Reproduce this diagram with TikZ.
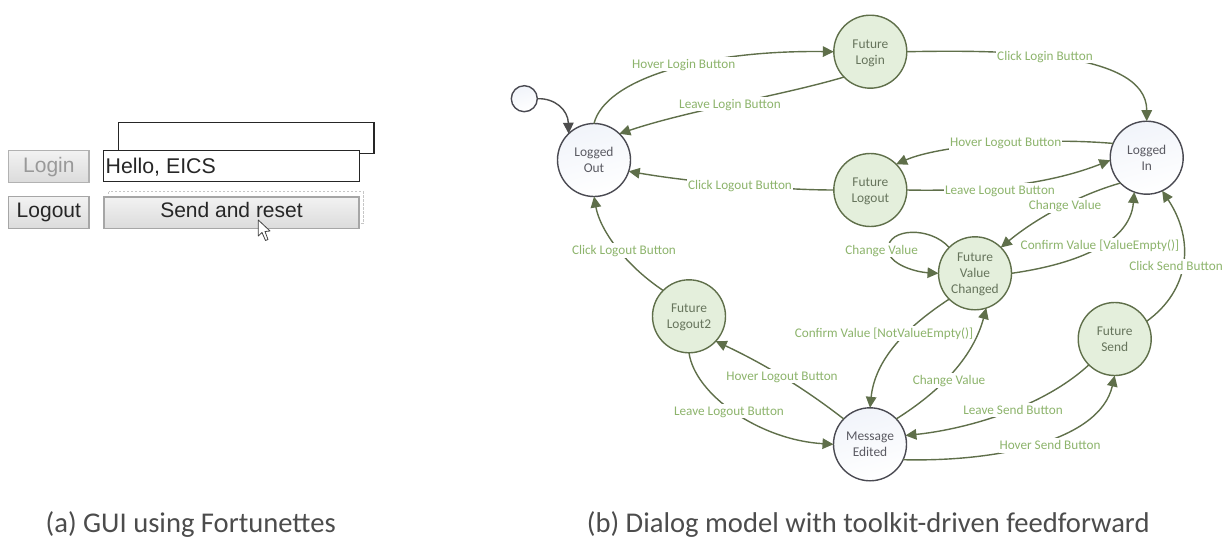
\documentclass[tikz,border=0pt]{standalone}
\usepackage{fontspec}
\setmainfont{Carlito}
\newfontfamily\guifont{Liberation Sans}
\usetikzlibrary{arrows.meta}
\definecolor{edgecol}{HTML}{5F6F4A}
\definecolor{labcol}{HTML}{8DB46C}
\definecolor{futfill}{HTML}{E4EFDC}
\definecolor{futtext}{HTML}{66745C}
\definecolor{regline}{HTML}{4A4A52}
\definecolor{regtext}{HTML}{5A5A62}
\definecolor{startcol}{HTML}{4D4D4D}
\definecolor{regblue}{HTML}{F1F4FA}
\tikzset{
 x=1pt,y=-1pt,
 future/.style={circle,draw=edgecol,fill=futfill,line width=1.4pt,minimum size=73pt,inner sep=0pt,outer sep=0pt,align=center,text=futtext,text depth=0pt,font=\fontsize{13.4}{16}\selectfont},
 regular/.style={circle,draw=regline,line width=1.4pt,minimum size=73pt,inner sep=0pt,outer sep=0pt,align=center,text=regtext,text depth=0pt,font=\fontsize{13.4}{16}\selectfont,shading=axis,top color=regblue,bottom color=white,shading angle=15},
 startnode/.style={circle,draw=regline,line width=1.4pt,minimum size=26pt,inner sep=0pt,outer sep=0pt,shading=axis,top color=regblue,bottom color=white,shading angle=15},
 trans/.style={draw=edgecol,line width=1.4pt,-{Triangle[length=11pt,width=10.5pt,fill=edgecol]}},
 edgelab/.style={fill=white,text=labcol,inner sep=1pt,text height=10.5pt,text depth=2pt,font=\fontsize{13.2}{15}\selectfont},
 guibtn/.style={draw=gray!70,line width=1.2pt,top color=gray!10,bottom color=gray!28,inner sep=0pt,outer sep=0pt,anchor=north west,text height=15pt,text depth=4.4pt,font=\guifont\fontsize{21}{24}\selectfont},
 guibox/.style={draw=black!85,fill=white,line width=1.2pt,inner sep=0pt,outer sep=0pt,anchor=north west},
 capt/.style={inner sep=0pt,text=black!70,anchor=base west,font=\fontsize{28.6}{32}\selectfont},
}
\begin{document}
\begin{tikzpicture}
\useasboundingbox (0,0) rectangle (1226,541);
% GUI
\node[guibox,minimum width=255.7pt,minimum height=31pt] (back) at (118.3,122.7) {};
\draw[gray!45,line width=1pt,dash pattern=on 2.5pt off 1.5pt] (108.7,191.7) rectangle (363.3,223.3);
\node[guibox,minimum width=256pt,minimum height=31pt] (hello) at (103.7,150.7) {};
\node[anchor=base west,inner sep=0pt,text=black!85,font=\guifont\fontsize{21.3}{24}\selectfont] (hellot) at (105.5,173) {Hello, EICS};
\node[guibtn,draw=gray!60,minimum width=80.3pt,minimum height=31.5pt,text=gray!80] (login) at (8.7,150.7) {\raisebox{-1pt}{Login}};
\node[guibtn,minimum width=80.3pt,minimum height=31.5pt,text=black!85] (logout) at (8.7,196.7) {Logout};
\node[guibtn,minimum width=255pt,minimum height=31.3pt,text=black!85] (send) at (104,197) {Send and reset};
\draw[fill=white,draw=black!75,line width=.8pt,line join=round] (258.3,220) -- (258.3,236) -- (262,232.5) -- (265.5,240.5) -- (268,239.5) -- (265,231.5) -- (270,231) -- cycle;
% states
\node[regular] (lo) at (594,160) {Logged\\Out};
\node[regular] (li) at (1146.7,157.7) {Logged\\In};
\node[regular] (me) at (870,444.3) {Message\\Edited};
\node[startnode] (st) at (524.3,98.7) {};
\node[future] (fl) at (870.3,51.7) {Future\\Login};
\node[future] (flo) at (870.3,190) {Future\\Logout};
\node[future] (fvc) at (975,273.3) {Future\\Value\\Changed};
\node[future] (fs) at (1114.7,339) {Future\\Send};
\node[future] (fl2) at (689,316.3) {Future\\Logout2};
\coordinate (loopturn) at (888,249);
% transitions
\draw[draw=startcol,line width=1.4pt,-{Triangle[length=11pt,width=10.5pt,fill=startcol]}] (st.0) .. controls (555,98) and (568,110) .. (lo.134);
\draw[trans] (lo.90) .. controls (605,80) and (700,50) .. (fl.180);
\draw[trans] (fl.224) .. controls (780,96) and (690,110) .. (lo.46);
\draw[trans] (flo.180) .. controls (780,190) and (690,182) .. (lo.-18);
\draw[trans] (fl2.135) .. controls (625,265) and (600,230) .. (lo.270);
\draw[trans] (fl.0) .. controls (1000,50) and (1147,50) .. (li.90);
\draw[trans] (li.157) .. controls (1040,137) and (940,145) .. (flo.45);
\draw[trans] (flo.0) .. controls (1000,192) and (1060,180) .. (li.184);
\draw[trans] (li.224) .. controls (1085,193) and (1040,215) .. (fvc.45);
\draw[trans] (fvc.0) .. controls (1070,265) and (1130,245) .. (li.250);
\draw[trans] (fvc.135) .. controls (930,226) and (888,228) .. (loopturn) .. controls (888,264) and (915,272) .. (fvc.180);
\draw[trans] (fvc.225) .. controls (905,328) and (875,360) .. (me.90);
\draw[trans] (me.44) .. controls (950,385) and (975,350) .. (fvc.288);
\draw[trans] (fs.225) .. controls (1040,410) and (960,430) .. (me.14);
\draw[trans] (me.-25) .. controls (1000,462) and (1100,440) .. (fs.270);
\draw[trans] (fs.29) .. controls (1190,290) and (1195,240) .. (li.295);
\draw[trans] (me.136) .. controls (800,385) and (760,362) .. (fl2.317);
\draw[trans] (fl2.270) .. controls (695,395) and (760,440) .. (me.180);
% labels
\node[edgelab] (l1) at (683.7,64) {Hover Login Button};
\node[edgelab] (l2) at (730,104) {Leave Login Button};
\node[edgelab] (l3) at (740,185) {Click Logout Button};
\node[edgelab] (l4) at (624,250.7) {Click Logout Button};
\node[edgelab] (l5) at (1045,56) {Click Login Button};
\node[edgelab] (l6) at (1005.7,142.7) {Hover Logout Button};
\node[edgelab] (l7) at (1000,190) {Leave Logout Button};
\node[edgelab] (l8) at (1065,205.7) {Change Value};
\node[edgelab] (l9) at (1100,245) {Confirm Value [ValueEmpty()]};
\node[edgelab] (l10) at (881.7,250) {Change Value};
\node[edgelab] (l11) at (1176,266.7) {Click Send Button};
\node[edgelab] (l12) at (884,333.7) {Confirm Value [NotValueEmpty()]};
\node[edgelab] (l13) at (949,380.7) {Change Value};
\node[edgelab] (l14) at (1013,410) {Leave Send Button};
\node[edgelab] (l15) at (1050,445.7) {Hover Send Button};
\node[edgelab] (l16) at (782,376) {Hover Logout Button};
\node[edgelab] (l17) at (729,411) {Leave Logout Button};
% captions
\node[capt] (ca) at (45.5,532) {(a) GUI using Fortunettes};
\node[capt] (cb) at (586.7,532) {(b) Dialog model with toolkit-driven feedforward};
\end{tikzpicture}
\end{document}
